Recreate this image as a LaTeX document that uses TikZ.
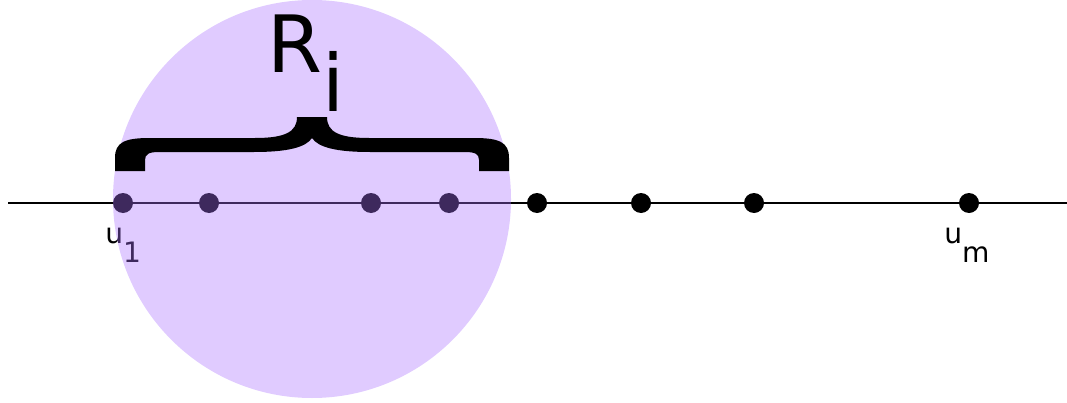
\documentclass[tikz,border=0pt]{standalone}
\usepackage{fontspec}
\setmainfont{DejaVu Sans}
\usepackage{xcolor}
\definecolor{regionfill}{RGB}{170,113,254}
\tikzset{vtx/.style={fill=black,draw=none}}
\tikzset{lbl/.style={anchor=base west,inner sep=0pt,font=\fontsize{16}{16}\selectfont}}

\begin{document}
\begin{tikzpicture}[x=0.02cm,y=-0.02cm]

  \useasboundingbox (0,0) rectangle (1067,402);

  \coordinate (L) at (8,203);
  \coordinate (E) at (1067,203);
  \coordinate (C) at (312,199);
  \coordinate (u1) at (123,203);
  \coordinate (u2) at (209,203);
  \coordinate (u3) at (371,203);
  \coordinate (u4) at (449,203);
  \coordinate (u5) at (537,203);
  \coordinate (u6) at (641,203);
  \coordinate (u7) at (754,203);
  \coordinate (um) at (969,203);

  \draw[line width=1.1pt,black] (L) -- (E);

  \filldraw[vtx] (u1) circle (10);
  \filldraw[vtx] (u2) circle (10);
  \filldraw[vtx] (u3) circle (10);
  \filldraw[vtx] (u4) circle (10);
  \filldraw[vtx] (u5) circle (10);
  \filldraw[vtx] (u6) circle (10);
  \filldraw[vtx] (u7) circle (10);
  \filldraw[vtx] (um) circle (10);

  \node[lbl] (lu1) at (105,243) {u\raisebox{-0.39cm}{1}};
  \node[lbl] (lum) at (944,243) {u\raisebox{-0.4cm}{m}};

  % the region R_i
  \fill[regionfill,fill opacity=0.37] (C) circle (199);

  \fill[black] (115,171) -- (115,158) .. controls (115,142) and (125,138) .. (150,138)
    -- (255,138) .. controls (285,138) and (297,132) .. (297,117)
    -- (327,117) .. controls (327,132) and (339,138) .. (369,138)
    -- (474,138) .. controls (499,138) and (509,142) .. (509,158)
    -- (509,171) -- (479,171) -- (479,160) .. controls (479,154) and (475,152) .. (465,152)
    -- (370,152) .. controls (335,152) and (318,147) .. (312,138)
    .. controls (306,147) and (289,152) .. (254,152)
    -- (159,152) .. controls (149,152) and (145,154) .. (145,160)
    -- (145,171) -- cycle;

  \node[anchor=base west,inner sep=0pt,font=\fontsize{45}{45}\selectfont] (Ri) at (267,72) {R\raisebox{-0.8cm}{i}};

\end{tikzpicture}
\end{document}
